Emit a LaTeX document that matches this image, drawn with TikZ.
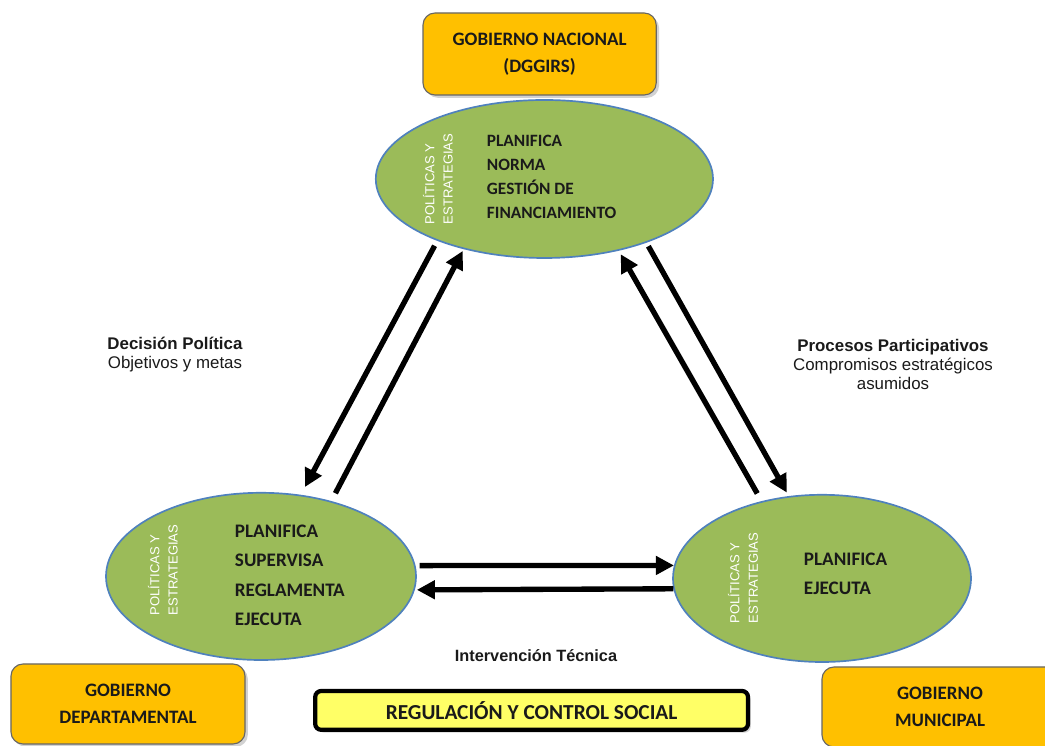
\documentclass[tikz,border=0pt]{standalone}
\usepackage{fontspec}
\setmainfont{Carlito}
\newfontfamily\arialfont{Liberation Sans}
\usetikzlibrary{shapes.geometric, arrows.meta, shadows}
\definecolor{naranja}{HTML}{FFC000}
\definecolor{verde}{HTML}{9BBB59}
\definecolor{azul}{HTML}{4F81BD}
\definecolor{amarillo}{HTML}{FFFF66}
\definecolor{tinta}{HTML}{1A1A1A}

\begin{document}
\begin{tikzpicture}[
    gob/.style={draw=gray!80!black, line width=0.8pt, fill=naranja, rounded corners=0.3cm,
      minimum width=5.85cm, minimum height=2.05cm, align=center, text=tinta,
      font=\bfseries\fontsize{13.5}{19}\selectfont,
      drop shadow={shadow xshift=2pt, shadow yshift=-2pt, fill=gray!70}},
    reg/.style={draw=black, line width=3pt, fill=amarillo, rounded corners=0.15cm,
      minimum width=10.82cm, minimum height=0.97cm, text=tinta,
      font=\bfseries\fontsize{15.2}{17}\selectfont,
      drop shadow={shadow xshift=2pt, shadow yshift=-2pt, fill=gray!70}},
    oval/.style={ellipse, draw=azul, line width=1.2pt, fill=verde, inner sep=0pt},
    tareas/.style={anchor=west, align=left, text=tinta, font=\bfseries\fontsize{13.6}{21}\selectfont},
    eje/.style={rotate=90, align=left, text=white, font=\arialfont\fontsize{9.3}{13}\selectfont},
    lbl/.style={align=center, text=tinta, font=\arialfont\fontsize{12}{13.5}\selectfont},
    flecha/.style={line width=3.8pt, -{Triangle[length=0.45cm, width=0.45cm]}}
  ]
    \useasboundingbox (0,0) rectangle (26.125,18.65);
    \clip (0,0) rectangle (26.125,18.65);

    \node[gob, minimum width=5.83cm] (nac) at (13.49,17.30) {GOBIERNO NACIONAL\\(DGGIRS)};
    \node[gob, minimum height=2cm] (dep) at (3.2,1.05) {GOBIERNO\\DEPARTAMENTAL};
    \node[gob, minimum width=5.9cm, minimum height=2cm] (mun) at (23.5,0.975) {GOBIERNO\\MUNICIPAL};
    \node[reg] (reg) at (13.29,0.89) {REGULACIÓN Y CONTROL SOCIAL};

    \node[oval, minimum width=8.43cm, minimum height=3.95cm] (en) at (13.61,14.175) {};
    \node[oval, minimum width=7.75cm, minimum height=4.18cm] (ed) at (6.525,4.24) {};
    \node[oval, minimum width=7.45cm, minimum height=4.18cm] (em) at (20.55,4.19) {};

    \node[eje] (vn) at (10.95,14.175) {POLÍTICAS Y\\ESTRATEGIAS};
    \node[eje] (vd) at (4.075,4.4) {POLÍTICAS Y\\ESTRATEGIAS};
    \node[eje] (vm) at (18.575,4.2) {POLÍTICAS Y\\ESTRATEGIAS};

    \node[tareas, font=\bfseries\fontsize{12.3}{17}\selectfont] (tn) at (12.05,14.225)
      {PLANIFICA\\NORMA\\GESTIÓN DE\\FINANCIAMIENTO};
    \node[tareas] (td) at (5.75,4.27) {PLANIFICA\\SUPERVISA\\REGLAMENTA\\EJECUTA};
    \node[tareas, font=\bfseries\fontsize{13.6}{20.6}\selectfont] (tm) at (19.975,4.31) {PLANIFICA\\EJECUTA};

    \node[lbl] (dec) at (4.375,9.79) {\textbf{Decisión Política}\\Objetivos y metas};
    \node[lbl] (pro) at (22.325,9.54) {\textbf{Procesos Participativos}\\Compromisos estratégicos\\asumidos};
    \node[lbl, font=\arialfont\bfseries\fontsize{11.6}{12}\selectfont] (int) at (13.4,2.25) {Intervención Técnica};

    \draw[flecha, shorten <=0.14cm, shorten >=0.22cm] (en.210) -- (ed.64);
    \draw[flecha, shorten <=0.22cm, shorten >=0.05cm] (ed.47) -- (en.221);
    \draw[flecha, shorten <=0.1cm, shorten >=0.1cm] (en.328) -- (em.112);
    \draw[flecha, shorten <=0.22cm, shorten >=0.1cm] (em.128) -- (en.316);
    \draw[flecha, shorten <=0.1cm] (ed.4) -- (em.175);
    \draw[flecha, shorten >=0.05cm] (em.184) -- (ed.355);
  \end{tikzpicture}
\end{document}
